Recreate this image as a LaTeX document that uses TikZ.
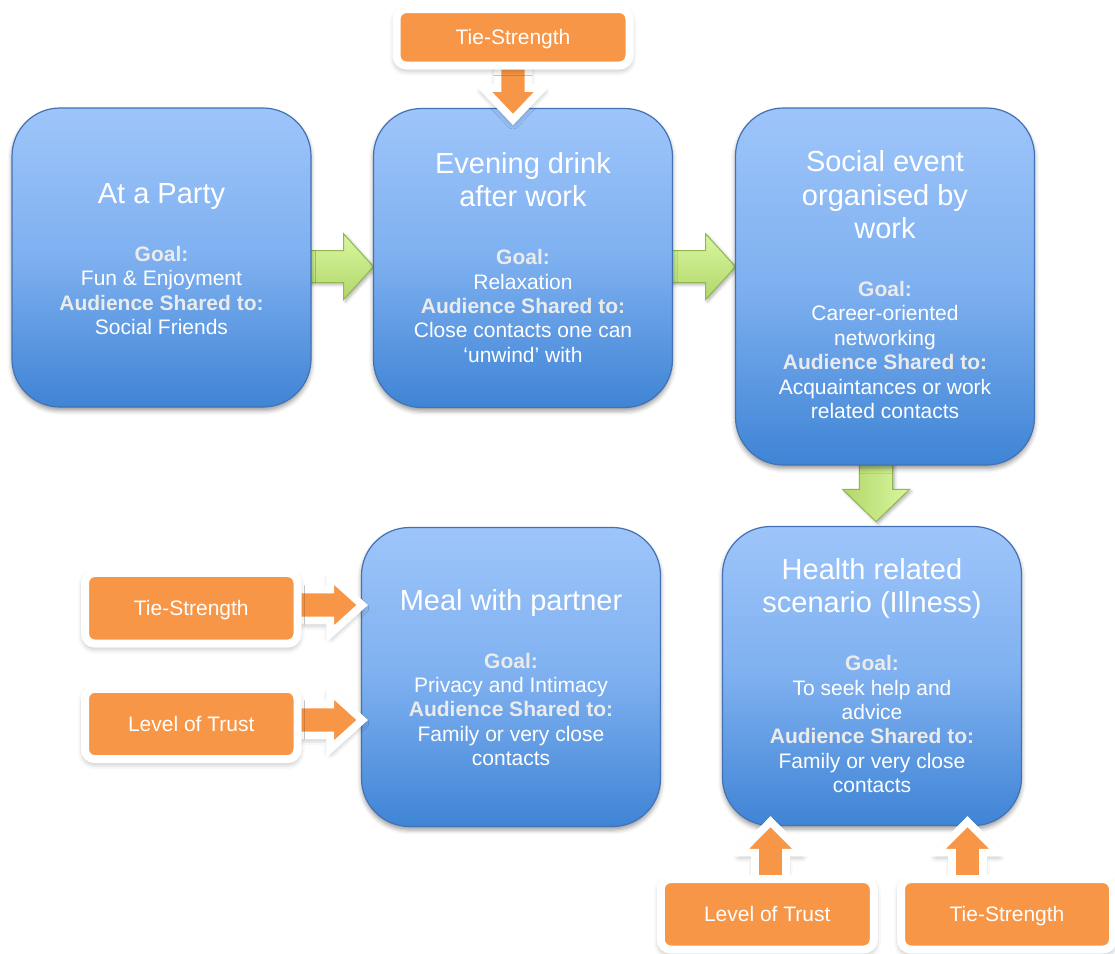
\documentclass[tikz,border=0pt]{standalone}
\usepackage{fontspec}
\setmainfont{Liberation Sans}
\usetikzlibrary{calc,shadows.blur}

\definecolor{boxtop}{HTML}{9EC5FA}
\definecolor{boxmid}{HTML}{7EB0F0}
\definecolor{boxbot}{HTML}{3F84D5}
\definecolor{boxline}{HTML}{4272B4}
\definecolor{tagorange}{HTML}{F79646}
\definecolor{greenlight}{HTML}{D8F7A0}
\definecolor{greendark}{HTML}{B3D66A}
\definecolor{greenline}{HTML}{8FB850}
\definecolor{headgrey}{HTML}{EBEBEB}

\newcommand\titlefnt{\fontsize{29pt}{33.4pt}\selectfont}
\newcommand\bodyfnt{\fontsize{21pt}{24.4pt}\selectfont}
\newcommand\scenhead[1]{{\bfseries\color{headgrey}#1}}
% title lines, then the goal / audience lines of one scenario
\newcommand\scen[2]{\parbox[t]{290pt}{\centering\titlefnt #1\par
  \vspace{33.6pt}\bodyfnt #2\par}}

% block arrow: style, start, tip, shaft half width, head half width, head length
\newcommand\blockarrow[6]{%
  \coordinate (ba-h) at ($(#3)!#6!(#2)$);
  \path[#1] ($(#2)!#4!90:(#3)$) -- ($(ba-h)!#4!90:(#3)$) -- ($(ba-h)!#5!90:(#3)$)
    -- (#3) -- ($(ba-h)!#5!-90:(#3)$) -- ($(ba-h)!#4!-90:(#3)$)
    -- ($(#2)!#4!-90:(#3)$) -- cycle;
}
% soft shadow under a scenario box: centre, half width, half height
\newcommand\boxshadow[3]{%
  \path[rounded corners=48pt,
    blur shadow={shadow xshift=0pt, shadow yshift=-3.5pt, shadow blur radius=4.5pt, shadow opacity=40}]
    ($(#1)+(-#2,-#3)$) rectangle ($(#1)+(#2,#3)$);
}

\begin{document}
\begin{tikzpicture}[x=1pt,y=-1pt,
  scenario/.style={draw=boxline, line width=1.2pt, rounded corners=48pt,
    top color=boxtop, bottom color=boxbot, middle color=boxmid,
    minimum width=299pt, minimum height=299pt, inner sep=0pt},
  scentext/.style={text=white, inner sep=0pt, anchor=base},
  tag/.style={fill=tagorange, draw=white, line width=8pt, rounded corners=10pt,
    text=white, font=\bodyfnt, text height=17pt, text depth=2pt, inner sep=0pt,
    blur shadow={shadow xshift=0pt, shadow yshift=-3pt, shadow blur radius=7pt, shadow opacity=42}},
  tagarrow/.style={fill=tagorange, draw=white, line width=7.7pt, line join=miter,
    blur shadow={shadow xshift=0pt, shadow yshift=-3pt, shadow blur radius=6.5pt, shadow opacity=42}},
  greenshadow/.style={blur shadow={shadow xshift=2pt, shadow yshift=-2pt, shadow blur radius=3pt, shadow opacity=30}},
  greenarrow/.style={draw=greenline, line width=1pt, line join=miter},
  ]
\useasboundingbox (0,0) rectangle (1115,953);

% centres of the scenario boxes
\coordinate (cParty) at (161.5,257.5);
\coordinate (cEvening) at (523,258);
\coordinate (cSocial) at (885,286.5);
\coordinate (cMeal) at (511,677);
\coordinate (cHealth) at (872,676);

% green arrows between scenarios (behind the boxes)
\coordinate (gA) at ($(cParty)+(0,9.2)$);
\coordinate (gAtip) at ($(cEvening)+(-149.5,8.7)$);
\blockarrow{greenshadow}{gA}{gAtip}{16pt}{33pt}{30pt}
\blockarrow{greenarrow, top color=greenlight, bottom color=greendark}{gA}{gAtip}{16pt}{33pt}{30pt}
\coordinate (gB) at ($(cEvening)+(0,8.7)$);
\coordinate (gBtip) at ($(cSocial)+(-149.5,-19.8)$);
\blockarrow{greenshadow}{gB}{gBtip}{16pt}{33pt}{30pt}
\blockarrow{greenarrow, top color=greenlight, bottom color=greendark}{gB}{gBtip}{16pt}{33pt}{30pt}
\coordinate (gC) at ($(cSocial)+(-9,0)$);
\coordinate (gCtip) at ($(cHealth)+(4,-154.3)$);
\blockarrow{greenshadow}{gC}{gCtip}{16.7pt}{33.5pt}{32.4pt}
\blockarrow{greenarrow, left color=greendark, right color=greenlight}{gC}{gCtip}{16.7pt}{33.5pt}{32.4pt}

% scenario boxes
\boxshadow{cParty}{149.5}{149.5}
\boxshadow{cEvening}{149.5}{149.5}
\boxshadow{cSocial}{149.5}{178.5}
\boxshadow{cMeal}{149.5}{149.5}
\boxshadow{cHealth}{149.5}{149.5}
\node[scenario] (party) at (cParty) {};
\node[scenario] (evening) at (cEvening) {};
\node[scenario, minimum height=357pt] (social) at (cSocial) {};
\node[scenario] (meal) at (cMeal) {};
\node[scenario] (health) at (cHealth) {};

% scenario texts
\node[scentext] (partytext) at ($(party.center)+(0,-54.2)$)
  {\scen{At a Party}{\scenhead{Goal:}\\Fun \& Enjoyment\\\scenhead{Audience Shared to:}\\Social Friends}};
\node[scentext] (eveningtext) at ($(evening.center)+(0,-84.7)$)
  {\scen{Evening drink\\after work}{\scenhead{Goal:}\\Relaxation\\\scenhead{Audience Shared to:}\\Close contacts one can\\‘unwind’ with}};
\node[scentext] (socialtext) at ($(social.center)+(0,-114.8)$)
  {\scen{Social event\\organised by\\work}{\scenhead{Goal:}\\Career-oriented\\networking\\\scenhead{Audience Shared to:}\\Acquaintances or work\\related contacts}};
\node[scentext] (mealtext) at ($(meal.center)+(0,-67)$)
  {\scen{Meal with partner}{\scenhead{Goal:}\\Privacy and Intimacy\\\scenhead{Audience Shared to:}\\Family or very close\\contacts}};
\node[scentext] (healthtext) at ($(health.center)+(0,-96.7)$)
  {\scen{Health related\\scenario (Illness)}{\scenhead{Goal:}\\To seek help and\\advice\\\scenhead{Audience Shared to:}\\Family or very close\\contacts}};

% centres of the factor tags
\coordinate (cTsTop) at (513,37.3);
\coordinate (cTsMeal) at (191.25,608.3);
\coordinate (cLtMeal) at (191.25,724);
\coordinate (cLtHealth) at (767.25,914.3);
\coordinate (cTsHealth) at (1007,914.3);

% orange arrows from the tags
\coordinate (oTop) at (cTsTop);
\coordinate (oTopTip) at ($(oTop |- evening.north)+(0,11.6)$);
\blockarrow{tagarrow}{oTop}{oTopTip}{15.5pt}{30pt}{31.5pt}
\coordinate (oTie) at ($(cTsMeal)+(0,-3.3)$);
\coordinate (oTieTip) at ($(oTie -| meal.west)+(1.3,0)$);
\blockarrow{tagarrow}{oTie}{oTieTip}{15.5pt}{29pt}{32pt}
\coordinate (oTrust) at ($(cLtMeal)+(0,-4)$);
\coordinate (oTrustTip) at ($(oTrust -| meal.west)+(1.3,0)$);
\blockarrow{tagarrow}{oTrust}{oTrustTip}{15.5pt}{29pt}{32pt}
\coordinate (oTrustB) at ($(cLtHealth)+(3.3,0)$);
\coordinate (oTrustBTip) at ($(oTrustB |- health.south)+(0,-4.5)$);
\blockarrow{tagarrow}{oTrustB}{oTrustBTip}{15.5pt}{31pt}{31.2pt}
\coordinate (oTieB) at ($(cTsHealth)+(-39.5,0)$);
\coordinate (oTieBTip) at ($(oTieB |- health.south)+(0,-4.5)$);
\blockarrow{tagarrow}{oTieB}{oTieBTip}{15.5pt}{31pt}{31.2pt}

% factor tags
\node[tag, minimum width=233pt, minimum height=56.5pt] (tsTop) at (cTsTop) {Tie-Strength};
\node[tag, minimum width=212.5pt, minimum height=70.7pt] (tsMeal) at (cTsMeal) {Tie-Strength};
\node[tag, minimum width=212.5pt, minimum height=70.4pt] (ltMeal) at (cLtMeal) {Level of Trust};
\node[tag, minimum width=213pt, minimum height=70.5pt] (ltHealth) at (cLtHealth) {Level of Trust};
\node[tag, minimum width=212pt, minimum height=70.5pt] (tsHealth) at (cTsHealth) {Tie-Strength};
\end{tikzpicture}
\end{document}
